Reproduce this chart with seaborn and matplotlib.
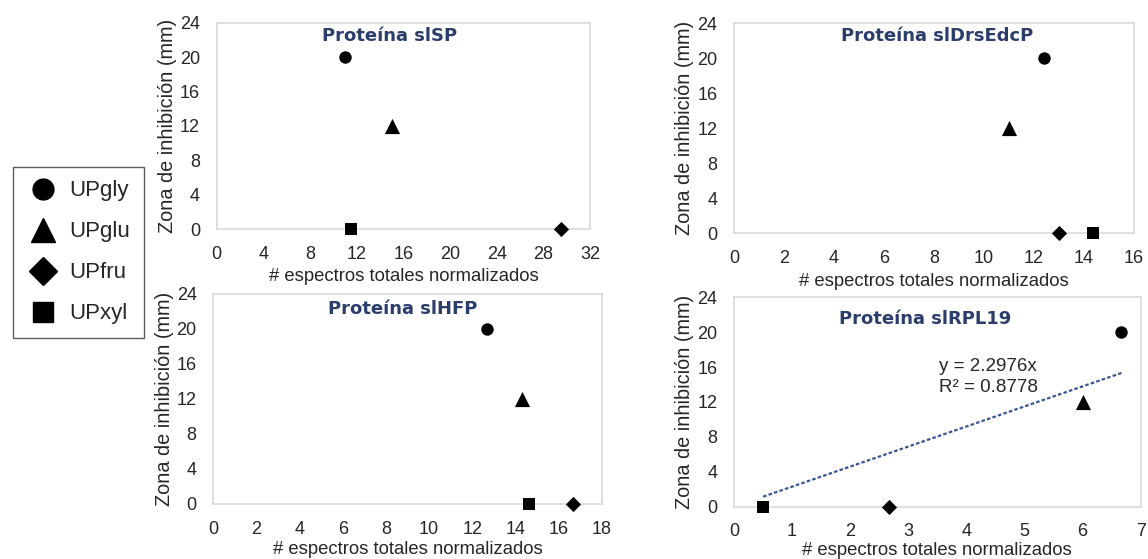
import matplotlib
matplotlib.use("Agg")
import matplotlib.pyplot as plt
import seaborn as sns
import pandas as pd
import numpy as np
from matplotlib.lines import Line2D

# ---- data ----
series = ["UPgly", "UPglu", "UPfru", "UPxyl"]
zona = [20, 12, 0, 0]  # Zona de inhibición (mm)

x_slSP = [11.0, 15.0, 29.5, 11.5]
x_slDrsEdcP = [12.4, 11.0, 13.0, 14.35]
x_slHFP = [12.67, 14.32, 16.66, 14.65]
x_slRPL19 = [6.67, 6.01, 2.67, 0.5]

titles = ["Proteína slSP", "Proteína slDrsEdcP", "Proteína slHFP", "Proteína slRPL19"]
xlims = [32, 16, 18, 7]
xsteps = [4, 2, 2, 1]
yticks = [0, 4, 8, 12, 16, 20, 24]

trend_slope = 2.2976
trend_r2 = 0.8778

xlabel = "# espectros totales normalizados"
ylabel = "Zona de inhibición (mm)"

# ---- style ----
sns.set_theme(style="white")
plt.rcParams["font.family"] = ["Liberation Sans", "DejaVu Sans"]

markers = {"UPgly": "o", "UPglu": "^", "UPfru": "D", "UPxyl": "s"}
sizes = {"UPgly": 80, "UPglu": 120, "UPfru": 60, "UPxyl": 85}

fig = plt.figure(figsize=(11.48, 5.59), dpi=100)
positions = [
    [0.1888, 0.5903, 0.3252, 0.3686],
    [0.6394, 0.5826, 0.3484, 0.3757],
    [0.1858, 0.0984, 0.3383, 0.3757],
    [0.6394, 0.0936, 0.3542, 0.3746],
]
title_pos = [(0.464, 0.937), (0.507, 0.94), (0.487, 0.927), (0.47, 0.895)]
xlabel_pads = [4, 4, 2.5, 1.5]
xs_all = [x_slSP, x_slDrsEdcP, x_slHFP, x_slRPL19]
navy = "#2B3E6B"
trend_color = "#3A5596"
txt = "#262626"

for i in range(4):
    ax = fig.add_axes(positions[i])
    df = pd.DataFrame({"x": xs_all[i], "y": zona, "serie": series})
    if i == 3:
        xx = np.array([min(xs_all[i]), max(xs_all[i])])
        sns.lineplot(x=xx, y=trend_slope * xx, ax=ax, color=trend_color,
                     linestyle=(0, (1.6, 1.0)), linewidth=1.6, zorder=2)
    for s in series:
        sub = df[df["serie"] == s]
        sns.scatterplot(data=sub, x="x", y="y", marker=markers[s], s=sizes[s],
                        color="black", edgecolor="black", linewidth=0, ax=ax,
                        legend=False, zorder=3, clip_on=False)
    ax.set_xticks(np.arange(0, xlims[i] + 0.001, xsteps[i]))
    ax.set_yticks(yticks)
    ax.set_xlim(0, xlims[i])
    ax.set_ylim(0, 24)
    ax.tick_params(axis="both", length=0, pad=12, labelsize=13, colors=txt)
    ax.set_xlabel(xlabel, fontsize=13.3, color=txt, labelpad=xlabel_pads[i])
    ax.set_ylabel(ylabel, fontsize=14.3, color=txt, labelpad=2)
    for sp in ax.spines.values():
        sp.set_color("#d9d9d9")
        sp.set_linewidth(1.2)
    tx, ty = title_pos[i]
    ax.text(tx, ty, titles[i], transform=ax.transAxes, ha="center", va="center",
            fontsize=13, fontweight="bold", color=navy,
            family=["DejaVu Sans"])
    if i == 3:
        ax.text(3.52, 16.1, f"y = {trend_slope}x", fontsize=13.5, color=txt,
                va="center", ha="left", transform=ax.transData)
        ax.text(3.52, 13.7, f"R² = {trend_r2}", fontsize=13.5, color=txt,
                va="center", ha="left", transform=ax.transData)

handles = [Line2D([], [], linestyle="none", marker=markers[s], color="black",
                  markersize={"UPgly": 15, "UPglu": 17, "UPfru": 14, "UPxyl": 15}[s])
           for s in series]
leg = fig.legend(handles, series, loc="upper left", bbox_to_anchor=(0.0113, 0.7013),
                 fontsize=16, frameon=True, fancybox=False, edgecolor="#333333",
                 labelspacing=0.9, handletextpad=0.45, borderpad=0.6, handlelength=1.5,
                 borderaxespad=0)
leg.get_frame().set_linewidth(1.0)
for t in leg.get_texts():
    t.set_color(txt)

fig.savefig("out.png", dpi=100)
